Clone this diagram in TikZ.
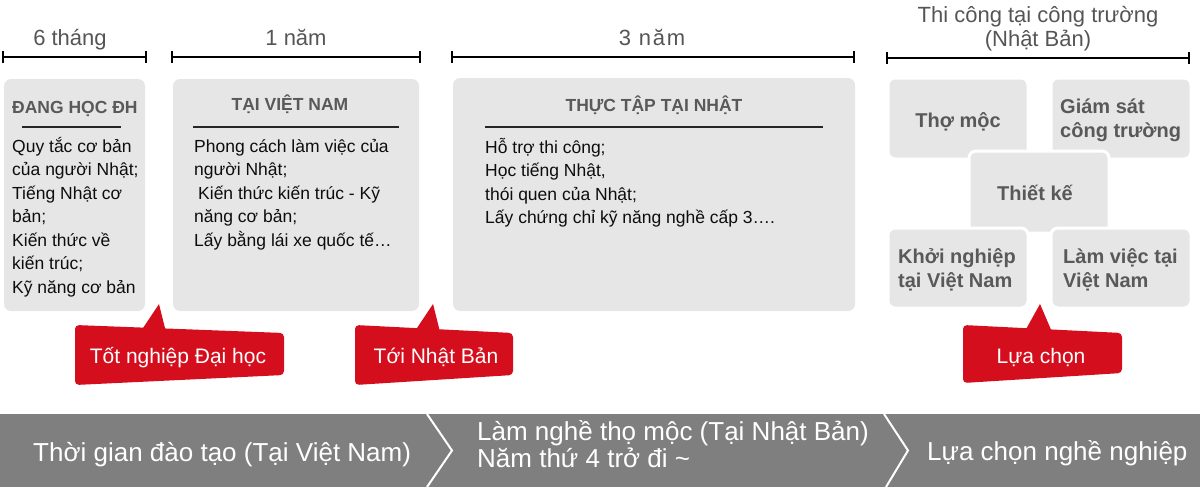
\documentclass[tikz,border=0pt]{standalone}
\usepackage{fontspec}
\setmainfont{Liberation Sans}
\definecolor{boxgray}{RGB}{230,230,230}
\definecolor{headgray}{RGB}{89,89,89}
\definecolor{labgray}{RGB}{85,85,85}
\definecolor{callred}{RGB}{212,14,28}
\definecolor{bandgray}{RGB}{127,127,127}
\newcommand\fsz[2]{\fontsize{#1}{#2}\selectfont}
\newcommand\firststrut[1]{\rule{0pt}{#1}}
\tikzset{
  graybox/.style={fill=boxgray, rounded corners=7pt, inner sep=0pt, outer sep=0pt, anchor=north west},
  choicebox/.style={graybox, draw=white, line width=3pt},
  bracketline/.style={line width=2.6pt, black},
  ruleline/.style={line width=1.2pt, black!85},
  bodytext/.style={inner sep=0pt, anchor=north west, align=left, font=\fsz{17.5}{23.5}, text=black!95},
  headtext/.style={inner sep=0pt, anchor=base, font=\bfseries\fsz{17.5}{21}, text=headgray},
  choicetext/.style={inner sep=0pt, anchor=north west, align=left, font=\bfseries\fsz{20}{24}, text=headgray},
  periodtext/.style={inner sep=0pt, anchor=base, font=\fsz{22}{24}, text=labgray},
  callout/.style={fill=callred, rounded corners=4pt},
  callouttail/.style={fill=callred},
  callouttext/.style={inner sep=0pt, anchor=base, font=\fsz{21}{24}, text=white},
  bandtext/.style={inner sep=0pt, font=\fsz{26}{27}, text=white},
  chevron/.style={white, line width=2pt}
}
\begin{document}
\begin{tikzpicture}[x=1pt, y=-1pt]
\useasboundingbox (0,0) rectangle (1200,491);

% period brackets
\draw[bracketline] (3,51) -- (3,63) (3,57) -- (146,57) (146,51) -- (146,63);
\draw[bracketline] (172,51) -- (172,63) (172,57) -- (420,57) (420,51) -- (420,63);
\draw[bracketline] (452,51) -- (452,63) (452,57) -- (854,57) (854,51) -- (854,63);
\draw[bracketline] (887,52) -- (887,64) (887,58) -- (1189,58) (1189,52) -- (1189,64);
\node[periodtext] (p1) at (70,45) {6 tháng};
\node[periodtext] (p2) at (296,45) {1 năm};
\node[periodtext, font=\fsz{22}{24}\addfontfeature{LetterSpace=8}] (p3) at (652,45) {3 năm};
\node[periodtext, anchor=north, align=center] (p4) at (1038,0) {\firststrut{22pt}Thi công tại công trường\\(Nhật Bản)};

% stage boxes
\node[graybox, minimum width=141pt, minimum height=232pt] (b1) at (4,79) {};
\node[graybox, minimum width=246pt, minimum height=232pt] (b2) at (173,79) {};
\node[graybox, minimum width=402pt, minimum height=233pt] (b3) at (453,78) {};

\node[headtext, anchor=base west] (h1) at (12,113) {ĐANG HỌC ĐH};
\draw[ruleline] (22,127) -- (121,127);
\node[bodytext] (t1) at (12,132) {\firststrut{20pt}Quy tắc cơ bản\\của người Nhật;\\Tiếng Nhật cơ\\bản;\\Kiến thức về\\kiến trúc;\\Kỹ năng cơ bản};

\node[headtext] (h2) at (290,110) {TẠI VIỆT NAM};
\draw[ruleline] (193,127) -- (399,127);
\node[bodytext] (t2) at (194,132) {\firststrut{20pt}Phong cách làm việc của\\người Nhật;\\\hspace*{4pt}Kiến thức kiến trúc - Kỹ\\năng cơ bản;\\Lấy bằng lái xe quốc tế…};

\node[headtext] (h3) at (654,111) {THỰC TẬP TẠI NHẬT};
\draw[ruleline] (485,127) -- (823,127);
\node[bodytext] (t3) at (485,133) {\firststrut{20pt}Hỗ trợ thi công;\\Học tiếng Nhật,\\thói quen của Nhật;\\Lấy chứng chỉ kỹ năng nghề cấp 3….};

% choice boxes
\node[choicebox, minimum width=140pt, minimum height=81pt] (c1) at (888,78) {};
\node[choicebox, minimum width=140pt, minimum height=81pt] (c2) at (1051,78) {};
\node[choicebox, minimum width=140pt, minimum height=82pt] (c3) at (969,151) {};
\node[choicebox, minimum width=140pt, minimum height=80pt] (c4) at (888,228) {};
\node[choicebox, minimum width=140pt, minimum height=80pt] (c5) at (1051,228) {};

\node[choicetext, anchor=base] (ct1) at (958,127) {Thợ mộc};
\node[choicetext] (ct2) at (1060,93) {\firststrut{20pt}Giám sát\\công trường};
\node[choicetext, anchor=base] (ct3) at (1035,200) {Thiết kế};
\node[choicetext] (ct4) at (898,243) {\firststrut{20pt}Khởi nghiệp\\tại Việt Nam};
\node[choicetext] (ct5) at (1063,243) {\firststrut{20pt}Làm việc tại\\Việt Nam};

% callouts
\fill[callout] (75,325) -- (284,333) -- (284,375) -- (75,385) -- cycle;
\fill[callouttail] (141,331) -- (159,304) -- (166,332) -- cycle;
\node[callouttext] (k1) at (178,363) {Tốt nghiệp Đại học};
\fill[callout] (355,325) -- (513,333) -- (513,375) -- (355,385) -- cycle;
\fill[callouttail] (415,331) -- (433,304) -- (440,332) -- cycle;
\node[callouttext] (k2) at (436,363) {Tới Nhật Bản};
\fill[callout] (963,325) -- (1122,333) -- (1122,373) -- (963,383) -- cycle;
\fill[callouttail] (1025,331) -- (1040,304) -- (1052,332) -- cycle;
\node[callouttext] (k3) at (1041,363) {Lựa chọn};

% bottom band
\fill[bandgray] (0,414) rectangle (1200,487);
\draw[chevron] (427,414) -- (452,450.5) -- (427,487);
\draw[chevron] (884,414) -- (908,450.5) -- (886,487);
\node[bandtext, anchor=base west] (s1) at (33,461) {Thời gian đào tạo (Tại Việt Nam)};
\node[bandtext, anchor=north west, align=left] (s2) at (477,414.5) {\firststrut{26pt}Làm nghề thọ mộc (Tại Nhật Bản)\\Năm thứ 4 trở đi \textasciitilde};
\node[bandtext, anchor=base west] (s3) at (927,460) {Lựa chọn nghề nghiệp};
\end{tikzpicture}
\end{document}
